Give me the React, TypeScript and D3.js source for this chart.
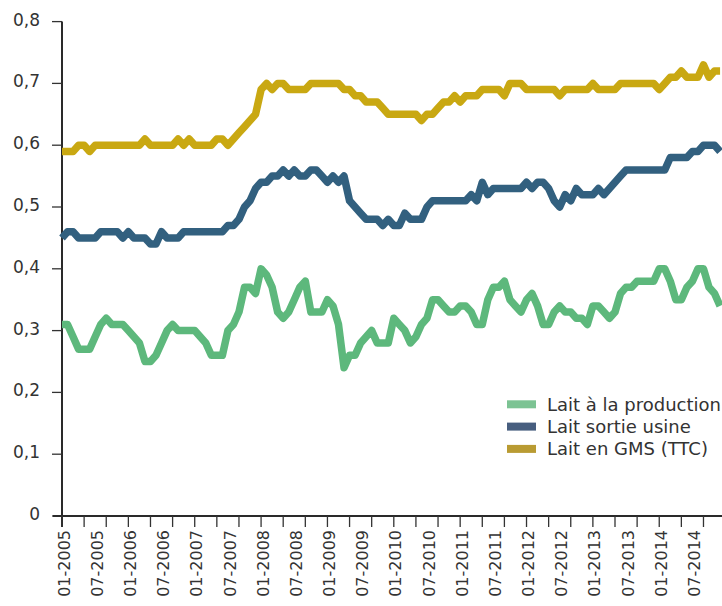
import React from "react";
import * as d3 from "d3";

// Monthly series, 01-2005 .. 12-2014 (120 months)
const startYear = 2005;
const monthsCount = 120;

const laitProduction: number[] = [
  0.31, 0.31, 0.29, 0.27, 0.27, 0.27, 0.29, 0.31, 0.32, 0.31, 0.31, 0.31,
  0.30, 0.29, 0.28, 0.25, 0.25, 0.26, 0.28, 0.30, 0.31, 0.30, 0.30, 0.30,
  0.30, 0.29, 0.28, 0.26, 0.26, 0.26, 0.30, 0.31, 0.33, 0.37, 0.37, 0.36,
  0.40, 0.39, 0.37, 0.33, 0.32, 0.33, 0.35, 0.37, 0.38, 0.33, 0.33, 0.33,
  0.35, 0.34, 0.31, 0.24, 0.26, 0.26, 0.28, 0.29, 0.30, 0.28, 0.28, 0.28,
  0.32, 0.31, 0.30, 0.28, 0.29, 0.31, 0.32, 0.35, 0.35, 0.34, 0.33, 0.33,
  0.34, 0.34, 0.33, 0.31, 0.31, 0.35, 0.37, 0.37, 0.38, 0.35, 0.34, 0.33,
  0.35, 0.36, 0.34, 0.31, 0.31, 0.33, 0.34, 0.33, 0.33, 0.32, 0.32, 0.31,
  0.34, 0.34, 0.33, 0.32, 0.33, 0.36, 0.37, 0.37, 0.38, 0.38, 0.38, 0.38,
  0.40, 0.40, 0.38, 0.35, 0.35, 0.37, 0.38, 0.40, 0.40, 0.37, 0.36, 0.34,
];

const laitUsine: number[] = [
  0.45, 0.46, 0.46, 0.45, 0.45, 0.45, 0.45, 0.46, 0.46, 0.46, 0.46, 0.45,
  0.46, 0.45, 0.45, 0.45, 0.44, 0.44, 0.46, 0.45, 0.45, 0.45, 0.46, 0.46,
  0.46, 0.46, 0.46, 0.46, 0.46, 0.46, 0.47, 0.47, 0.48, 0.50, 0.51, 0.53,
  0.54, 0.54, 0.55, 0.55, 0.56, 0.55, 0.56, 0.55, 0.55, 0.56, 0.56, 0.55,
  0.54, 0.55, 0.54, 0.55, 0.51, 0.50, 0.49, 0.48, 0.48, 0.48, 0.47, 0.48,
  0.47, 0.47, 0.49, 0.48, 0.48, 0.48, 0.50, 0.51, 0.51, 0.51, 0.51, 0.51,
  0.51, 0.51, 0.52, 0.51, 0.54, 0.52, 0.53, 0.53, 0.53, 0.53, 0.53, 0.53,
  0.54, 0.53, 0.54, 0.54, 0.53, 0.51, 0.50, 0.52, 0.51, 0.53, 0.52, 0.52,
  0.52, 0.53, 0.52, 0.53, 0.54, 0.55, 0.56, 0.56, 0.56, 0.56, 0.56, 0.56,
  0.56, 0.56, 0.58, 0.58, 0.58, 0.58, 0.59, 0.59, 0.60, 0.60, 0.60, 0.59,
];

const laitGMS: number[] = [
  0.59, 0.59, 0.59, 0.60, 0.60, 0.59, 0.60, 0.60, 0.60, 0.60, 0.60, 0.60,
  0.60, 0.60, 0.60, 0.61, 0.60, 0.60, 0.60, 0.60, 0.60, 0.61, 0.60, 0.61,
  0.60, 0.60, 0.60, 0.60, 0.61, 0.61, 0.60, 0.61, 0.62, 0.63, 0.64, 0.65,
  0.69, 0.70, 0.69, 0.70, 0.70, 0.69, 0.69, 0.69, 0.69, 0.70, 0.70, 0.70,
  0.70, 0.70, 0.70, 0.69, 0.69, 0.68, 0.68, 0.67, 0.67, 0.67, 0.66, 0.65,
  0.65, 0.65, 0.65, 0.65, 0.65, 0.64, 0.65, 0.65, 0.66, 0.67, 0.67, 0.68,
  0.67, 0.68, 0.68, 0.68, 0.69, 0.69, 0.69, 0.69, 0.68, 0.70, 0.70, 0.70,
  0.69, 0.69, 0.69, 0.69, 0.69, 0.69, 0.68, 0.69, 0.69, 0.69, 0.69, 0.69,
  0.70, 0.69, 0.69, 0.69, 0.69, 0.70, 0.70, 0.70, 0.70, 0.70, 0.70, 0.70,
  0.69, 0.70, 0.71, 0.71, 0.72, 0.71, 0.71, 0.71, 0.73, 0.71, 0.72, 0.72,
];

const yTicks: number[] = [0, 0.1, 0.2, 0.3, 0.4, 0.5, 0.6, 0.7, 0.8];
const seriesNames: string[] = ["Lait à la production", "Lait sortie usine", "Lait en GMS (TTC)"];
const lineColors: string[] = ["#5db87c", "#32607f", "#c9a812"];
const legendColors: string[] = ["#7cc393", "#475e7f", "#b99b32"];

const W = 722;
const H = 606;
const FONT = "'DejaVu Sans', sans-serif";

export default function App() {
  const x = d3.scaleLinear().domain([0, monthsCount - 1]).range([62, 62 + 119 * 5.53]);
  const y = d3.scaleLinear().domain([0, 0.8]).range([516, 21.6]);
  const line = d3
    .line<number>()
    .x((_, i) => x(i))
    .y((d) => y(d));

  const allSeries = [laitProduction, laitUsine, laitGMS];
  const months = d3.range(monthsCount);
  const tickMonths = months.filter((i) => i % 4 === 0);
  const labelMonths = months.filter((i) => i % 6 === 0);
  const labelOf = (i: number) => {
    const yr = startYear + Math.floor(i / 12);
    const m = (i % 12) + 1;
    return `${m < 10 ? "0" + m : m}-${yr}`;
  };
  const fmt = (v: number) => (v === 0 ? "0" : d3.format(".1f")(v).replace(".", ","));

  return (
    <svg
      width={W}
      height={H}
      style={{ position: "absolute", left: 0, top: 0, background: "#fff" }}
      fontFamily={FONT}
    >
      <rect x={0} y={0} width={W} height={H} fill="#fff" />
      {/* y axis */}
      <line x1={62} x2={62} y1={y(0.8)} y2={527} stroke="#2a2a2a" strokeWidth={2} />
      {yTicks.map((t) => (
        <g key={t}>
          <line x1={52} x2={62} y1={y(t)} y2={y(t)} stroke="#333" strokeWidth={1.3} />
          <text
            x={40}
            y={y(t) - 2}
            dy="0.35em"
            textAnchor="end"
            fontSize={17}
            fill="#333"
          >
            {fmt(t)}
          </text>
        </g>
      ))}
      {/* x axis */}
      <line x1={53} x2={W} y1={516} y2={516} stroke="#2a2a2a" strokeWidth={2} />
      {tickMonths.map((i) => (
        <line key={i} x1={x(i)} x2={x(i)} y1={516} y2={527} stroke="#333" strokeWidth={1.3} />
      ))}
      {labelMonths.map((i) => (
        <text
          key={i}
          transform={`translate(${x(i) + 2},530) rotate(-90)`}
          dy="0.35em"
          textAnchor="end"
          fontSize={16}
          fill="#333"
        >
          {labelOf(i)}
        </text>
      ))}
      {/* lines */}
      {allSeries.map((s, k) => (
        <path
          key={k}
          d={line(s) || ""}
          fill="none"
          stroke={lineColors[k]}
          strokeWidth={7.5}
          strokeLinejoin="round"
          strokeLinecap="butt"
        />
      ))}
      {/* legend */}
      {seriesNames.map((n, k) => {
        const cy = 404.3 + k * 22.3;
        return (
          <g key={n}>
            <rect x={507} y={cy - 4} width={29} height={8} fill={legendColors[k]} />
            <text x={547} y={cy} dy="0.35em" fontSize={18} fill="#333">
              {n}
            </text>
          </g>
        );
      })}
    </svg>
  );
}
